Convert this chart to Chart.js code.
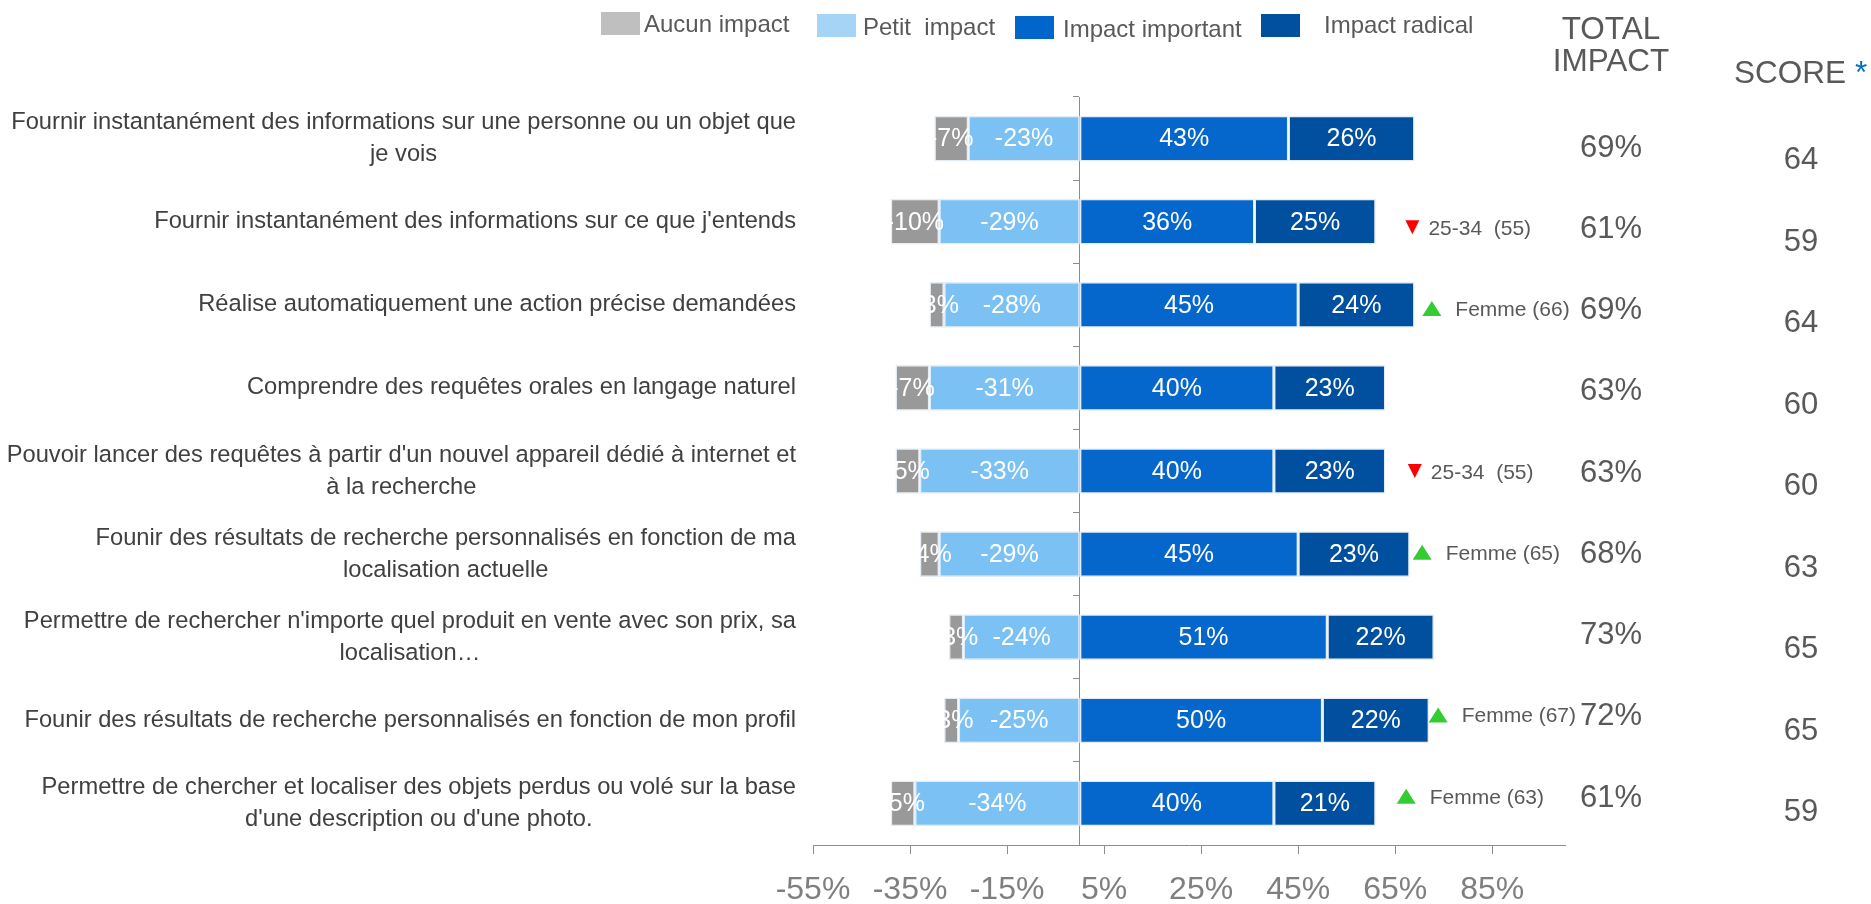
<!DOCTYPE html>
<html lang="fr">
<head>
<meta charset="utf-8">
<title>Impact des fonctionnalités</title>
<script src="https://cdn.jsdelivr.net/npm/chart.js@4.4.1/dist/chart.umd.min.js"></script>
<style>
  html, body { margin: 0; padding: 0; background: #fff; }
  canvas { display: block; }
</style>
</head>
<body>
<canvas id="impactChart" width="1871" height="904"></canvas>
<script>
// Libellés (une entrée par ligne de texte)
const categories = [
  ["Fournir instantanément des informations sur une personne ou un objet que", "je vois"],
  ["Fournir instantanément des informations sur ce que j'entends"],
  ["Réalise automatiquement une action précise demandées"],
  ["Comprendre des requêtes orales en langage naturel"],
  ["Pouvoir lancer des requêtes à partir d'un nouvel appareil dédié à internet et", "à la recherche"],
  ["Founir des résultats de recherche personnalisés en fonction de ma", "localisation actuelle"],
  ["Permettre de rechercher n'importe quel produit en vente avec son prix, sa", "localisation…"],
  ["Founir des résultats de recherche personnalisés en fonction de mon profil"],
  ["Permettre de chercher et localiser des objets perdus ou volé sur la base", "d'une description ou d'une photo."]
];

const aucunImpact     = [-7, -10, -3, -7, -5, -4, -3, -3, -5];
const petitImpact     = [-23, -29, -28, -31, -33, -29, -24, -25, -34];
const impactImportant = [43, 36, 45, 40, 40, 45, 51, 50, 40];
const impactRadical   = [26, 25, 24, 23, 23, 23, 22, 22, 21];

const totalImpact = [69, 61, 69, 63, 63, 68, 73, 72, 61];
const scores      = [64, 59, 64, 60, 60, 63, 65, 65, 59];

const xTicks = [-55, -35, -15, 5, 25, 45, 65, 85];

// écarts significatifs : sens, texte
const notes = [
  null,
  ["down", "25-34  (55)"],
  ["up", "Femme (66)"],
  null,
  ["down", "25-34  (55)"],
  ["up", "Femme (65)"],
  null,
  ["up", "Femme (67)"],
  ["up", "Femme (63)"]
];

// --- mise en page ---
const FONT = "Arial, 'Liberation Sans', sans-serif";
const TEXT_GREY = '#595959';
const noteAt = [null, 67.1, 70.6, null, 67.6, 68.6, null, 71.9, 65.3]; // position du triangle, en unités de l'axe
const LABEL_RIGHT = 796;
const LABEL_LINE = 32;
const TOTAL_X = 1611;
const SCORE_X = 1801;

const legendItems = [
  { text: 'Aucun impact',     color: '#bfbfbf', box: [601, 12, 39, 23],  tx: 644,  ty: 32 },
  { text: 'Petit  impact',    color: '#a6d4f6', box: [817, 14, 39, 23],  tx: 863,  ty: 35 },
  { text: 'Impact important', color: '#0066cc', box: [1015, 16, 39, 23], tx: 1063, ty: 37 },
  { text: 'Impact radical',   color: '#0050a0', box: [1261, 14, 39, 23], tx: 1324, ty: 33 }
];

const barLabels = {
  id: 'barLabels',
  afterDatasetsDraw(chart) {
    const { ctx } = chart;
    ctx.save();
    ctx.fillStyle = '#ffffff';
    ctx.font = `25px ${FONT}`;
    ctx.textAlign = 'center';
    ctx.textBaseline = 'middle';
    chart.data.datasets.forEach((ds, di) => {
      chart.getDatasetMeta(di).data.forEach((bar, i) => {
        const { x, base, y } = bar.getProps(['x', 'base', 'y'], true);
        ctx.fillText(ds.data[i] + '%', (x + base) / 2, y + 1);
      });
    });
    ctx.restore();
  }
};

const sideText = {
  id: 'sideText',
  afterDraw(chart) {
    const { ctx, scales: { x, y } } = chart;
    ctx.save();

    // libellés des catégories : bloc aligné à droite, lignes centrées
    ctx.fillStyle = '#404040';
    ctx.font = `23.7px ${FONT}`;
    ctx.textAlign = 'center';
    ctx.textBaseline = 'middle';
    categories.forEach((lines, i) => {
      const cy = y.getPixelForValue(i);
      const w = Math.max(...lines.map(l => ctx.measureText(l).width));
      const cx = LABEL_RIGHT - w / 2;
      lines.forEach((line, k) => {
        ctx.fillText(line, cx, cy + (k - (lines.length - 1) / 2) * LABEL_LINE);
      });
    });

    // légende
    ctx.textAlign = 'left';
    ctx.textBaseline = 'alphabetic';
    ctx.font = `24px ${FONT}`;
    legendItems.forEach(it => {
      ctx.fillStyle = it.color;
      ctx.fillRect(...it.box);
      ctx.fillStyle = TEXT_GREY;
      ctx.fillText(it.text, it.tx, it.ty);
    });

    // en-têtes des colonnes
    ctx.font = `31.5px ${FONT}`;
    ctx.fillStyle = TEXT_GREY;
    ctx.textAlign = 'center';
    ctx.fillText('TOTAL', TOTAL_X, 39);
    ctx.fillText('IMPACT', TOTAL_X, 71);
    ctx.textAlign = 'left';
    ctx.fillText('SCORE', 1734, 83);
    ctx.fillStyle = '#0070c0';
    ctx.fillText('*', 1855, 83);

    // total, score et écarts
    categories.forEach((_, i) => {
      const cy = y.getPixelForValue(i);
      const ty = cy + 18 - 1.85 * i;
      const sy = cy + 30.4 - 1.55 * i;

      ctx.font = `31px ${FONT}`;
      ctx.fillStyle = TEXT_GREY;
      ctx.textAlign = 'center';
      ctx.fillText(totalImpact[i] + '%', TOTAL_X, ty);
      ctx.fillText(String(scores[i]), SCORE_X, sy);

      const note = notes[i];
      if (!note) return;
      const nx = x.getPixelForValue(noteAt[i]);
      const my = ty - 10.5;
      ctx.beginPath();
      if (note[0] === 'down') {
        ctx.fillStyle = '#ff0000';
        ctx.moveTo(nx, my - 7);
        ctx.lineTo(nx + 14, my - 7);
        ctx.lineTo(nx + 7, my + 7);
      } else {
        ctx.fillStyle = '#33cc33';
        ctx.moveTo(nx, my + 7.5);
        ctx.lineTo(nx + 19, my + 7.5);
        ctx.lineTo(nx + 9.5, my - 7.5);
      }
      ctx.closePath();
      ctx.fill();
      ctx.font = `21px ${FONT}`;
      ctx.fillStyle = TEXT_GREY;
      ctx.textAlign = 'left';
      ctx.fillText(note[1], nx + (note[0] === 'down' ? 23 : 33), ty - 3);
    });

    ctx.restore();
  }
};

const barStyle = {
  borderColor: '#e4edf7',
  borderWidth: 1.5,
  borderSkipped: false,
  barPercentage: 0.55,
  categoryPercentage: 1
};

new Chart(document.getElementById('impactChart'), {
  type: 'bar',
  data: {
    labels: categories,
    datasets: [
      { label: 'Petit  impact', data: petitImpact, backgroundColor: '#7bc1f4', ...barStyle },
      { label: 'Aucun impact', data: aucunImpact, backgroundColor: '#999999', ...barStyle },
      { label: 'Impact important', data: impactImportant, backgroundColor: '#0566cc', ...barStyle },
      { label: 'Impact radical', data: impactRadical, backgroundColor: '#00509f', ...barStyle }
    ]
  },
  options: {
    indexAxis: 'y',
    responsive: false,
    animation: false,
    devicePixelRatio: 1,
    layout: { padding: { left: 813, right: 306, top: 97, bottom: 0 } },
    plugins: {
      legend: { display: false },
      tooltip: { enabled: false }
    },
    scales: {
      x: {
        stacked: true,
        min: -55,
        max: 100,
        afterBuildTicks: s => { s.ticks = xTicks.map(v => ({ value: v })); },
        afterFit: s => { s.height = 59; },
        grid: { drawOnChartArea: false, tickLength: 9, color: '#8c8c8c' },
        border: { color: '#8c8c8c', width: 1 },
        ticks: {
          color: '#7f7f7f',
          font: { size: 32, family: FONT },
          padding: 17,
          maxRotation: 0,
          autoSkip: false,
          callback: v => v + '%'
        }
      },
      y: {
        stacked: true,
        position: { x: 0 },
        ticks: { display: false },
        grid: { drawOnChartArea: false, tickLength: 6, color: '#8c8c8c' },
        border: { color: '#8c8c8c', width: 1 }
      }
    }
  },
  plugins: [barLabels, sideText]
});
</script>
</body>
</html>
